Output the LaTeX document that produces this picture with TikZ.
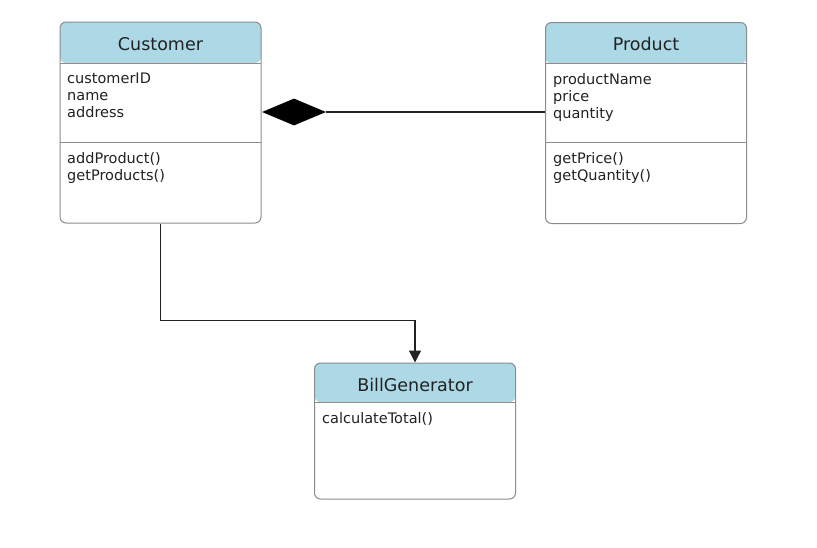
\documentclass[tikz,border=0pt]{standalone}
\usepackage{fontspec}
\setmainfont{DejaVu Sans}
\usepackage{tikz}
\usetikzlibrary{shapes.geometric}
\usetikzlibrary{arrows.meta}

\definecolor{headblue}{HTML}{ADD8E6}
\definecolor{boxgray}{HTML}{8C8C8C}
\definecolor{ink}{HTML}{222222}

\tikzset{
  classbox/.style={draw=boxgray, fill=white, rounded corners=6pt, line width=1pt,
    minimum width=201pt, inner sep=0pt,
    path picture={\fill[headblue] (path picture bounding box.north west) rectangle ([yshift=-#1]path picture bounding box.north east);
      \draw[boxgray, line width=1pt] ([yshift=-#1]path picture bounding box.north west) -- ([yshift=-#1]path picture bounding box.north east);}},
  classname/.style={font=\fontsize{17.5}{20}\selectfont, text=ink, inner sep=0pt, anchor=base},
  members/.style={font=\fontsize{14.5}{17}\selectfont, text=ink, align=left, anchor=north west, inner sep=0pt},
  divider/.style={draw=boxgray, line width=1pt},
  link/.style={draw=ink, line width=1.3pt}
}

\begin{document}
\begin{tikzpicture}[x=1pt, y=-1pt]
\useasboundingbox (0,0) rectangle (817,547);
% classes
\node (cust) at (160.5,122.5) [classbox=41pt, minimum height=201pt] {};
\node (prod) at (646,123) [classbox=41pt, minimum height=201pt] {};
\node (bill) at (415,431) [classbox=39pt, minimum height=136pt] {};
\draw[divider] (60,142) -- (261,142);
\draw[divider] (545,142) -- (747,142);
% names and members
\node (custname) at (160.5,50) [classname] {Customer};
\node (custattr) at (67,73) [members] {customerID\\name\\address};
\node (custops) at (67,152) [members] {addProduct()\\getProducts()};
\node (prodname) at (646,50) [classname] {Product};
\node (prodattr) at (553,73) [members] {productName\\price\\quantity};
\node (prodops) at (553,152) [members] {getPrice()\\getQuantity()};
\node (billname) at (415,391.5) [classname] {BillGenerator};
\node (billops) at (322,412) [members] {calculateTotal()};
% composition
\node (comp) at (294,112) [diamond, fill=black, inner sep=0pt, minimum width=64pt, minimum height=27pt] {};
\draw[link] (comp.east) -- (comp.east -| prod.west);
% dependency
\draw[link, -{Triangle[length=12pt, width=12pt]}] (cust.south) -- ++(0,97) -| (bill.north);
\end{tikzpicture}
\end{document}
